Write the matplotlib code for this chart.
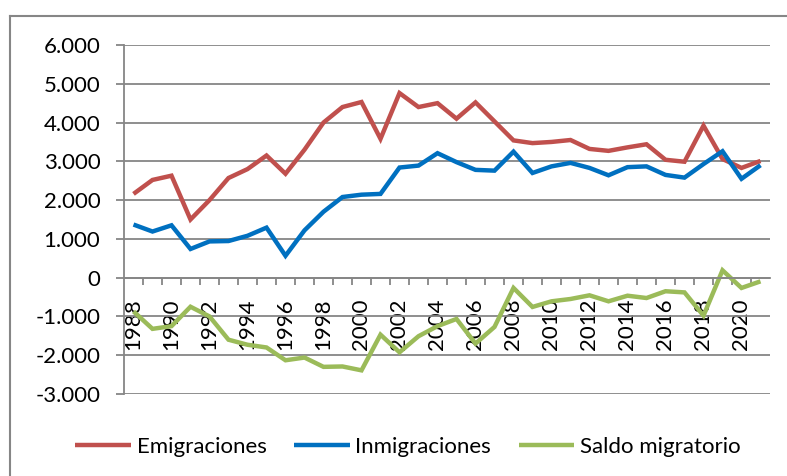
import matplotlib
matplotlib.use("Agg")
from matplotlib import pyplot as plt
from matplotlib.ticker import FixedLocator, FuncFormatter
from matplotlib.lines import Line2D

years = list(range(1988, 2022))

emigraciones = [2160, 2520, 2630, 1500, 2000, 2570, 2800, 3150, 2680, 3300,
                4000, 4400, 4530, 3580, 4760, 4400, 4500, 4100, 4520, 4030,
                3540, 3470, 3500, 3550, 3320, 3270, 3360, 3440, 3040, 2990,
                3920, 3060, 2830, 3010]

inmigraciones = [1370, 1190, 1350, 740, 935, 945, 1080, 1290, 565, 1220,
                 1700, 2080, 2140, 2160, 2840, 2890, 3210, 2980, 2780, 2760,
                 3250, 2700, 2870, 2960, 2830, 2640, 2850, 2870, 2650, 2580,
                 2930, 3260, 2550, 2900]

saldo = [-870, -1320, -1250, -750, -1000, -1600, -1730, -1800, -2130, -2060,
         -2300, -2290, -2390, -1470, -1925, -1510, -1250, -1065, -1700, -1270,
         -265, -755, -610, -550, -455, -610, -465, -525, -350, -380,
         -980, 190, -265, -95]

series_names = ["Emigraciones", "Inmigraciones", "Saldo migratorio"]
series_colors = ["#C0504D", "#0070C0", "#9BBB59"]
y_ticks = [-3000, -2000, -1000, 0, 1000, 2000, 3000, 4000, 5000, 6000]

GRAY = "#868686"
W, H = 787, 476
FS = 16

plt.rcParams["font.family"] = ["Lato", "DejaVu Sans"]

fig = plt.figure(figsize=(W / 100, H / 100), dpi=100)
ax = fig.add_axes([124 / W, 1 - 394 / H, (770 - 124) / W, (394 - 45) / H])

x = list(range(len(years)))
for vals, name, col in zip([emigraciones, inmigraciones, saldo],
                           series_names, series_colors):
    ax.plot(x, vals, color=col, lw=3.2, label=name, solid_joinstyle="miter",
            solid_capstyle="butt")

ax.set_xlim(-0.5, len(years) - 0.5)
ax.set_ylim(-3000, 6000)

# y axis
ax.yaxis.set_major_locator(FixedLocator(y_ticks))
ax.yaxis.set_major_formatter(
    FuncFormatter(lambda v, p: f"{int(v):,}".replace(",", ".")))
ax.grid(axis="y", color=GRAY, lw=1.3)
ax.tick_params(axis="y", length=6, width=1.3, color=GRAY, labelsize=FS,
               pad=11)

# x axis sits at zero, ticks at category boundaries
for s in ["top", "right"]:
    ax.spines[s].set_visible(False)
ax.spines["left"].set_color(GRAY)
ax.spines["left"].set_linewidth(1.3)
ax.spines["bottom"].set_position(("data", 0))
ax.spines["bottom"].set_color(GRAY)
ax.spines["bottom"].set_linewidth(1.3)

ax.xaxis.set_major_locator(FixedLocator(x[::2]))
ax.xaxis.set_major_formatter(FuncFormatter(lambda v, p: str(years[int(round(v))])))
ax.xaxis.set_minor_locator(FixedLocator([i + 0.5 for i in x[:-1]]))
ax.tick_params(axis="x", which="major", length=0, labelsize=FS, pad=15,
               labelrotation=90)
ax.tick_params(axis="x", which="minor", length=5, width=1.3, color=GRAY)
for lbl in ax.get_xticklabels():
    lbl.set_va("top")
ax.set_axisbelow(True)

# outer chart frame (only top and left edges visible)
fig.add_artist(Line2D([10 / W, 10 / W], [0, 1 - 16 / H], color=GRAY, lw=1.5,
                      transform=fig.transFigure))
fig.add_artist(Line2D([10 / W, 1], [1 - 16 / H, 1 - 16 / H], color=GRAY,
                      lw=1.5, transform=fig.transFigure))

fig.legend(loc="center", bbox_to_anchor=(408 / W, 1 - 447 / H), ncol=3,
           frameon=False, fontsize=FS, handlelength=2.5,
           handletextpad=0.25, columnspacing=1.25)

fig.savefig("out.png", dpi=100)
